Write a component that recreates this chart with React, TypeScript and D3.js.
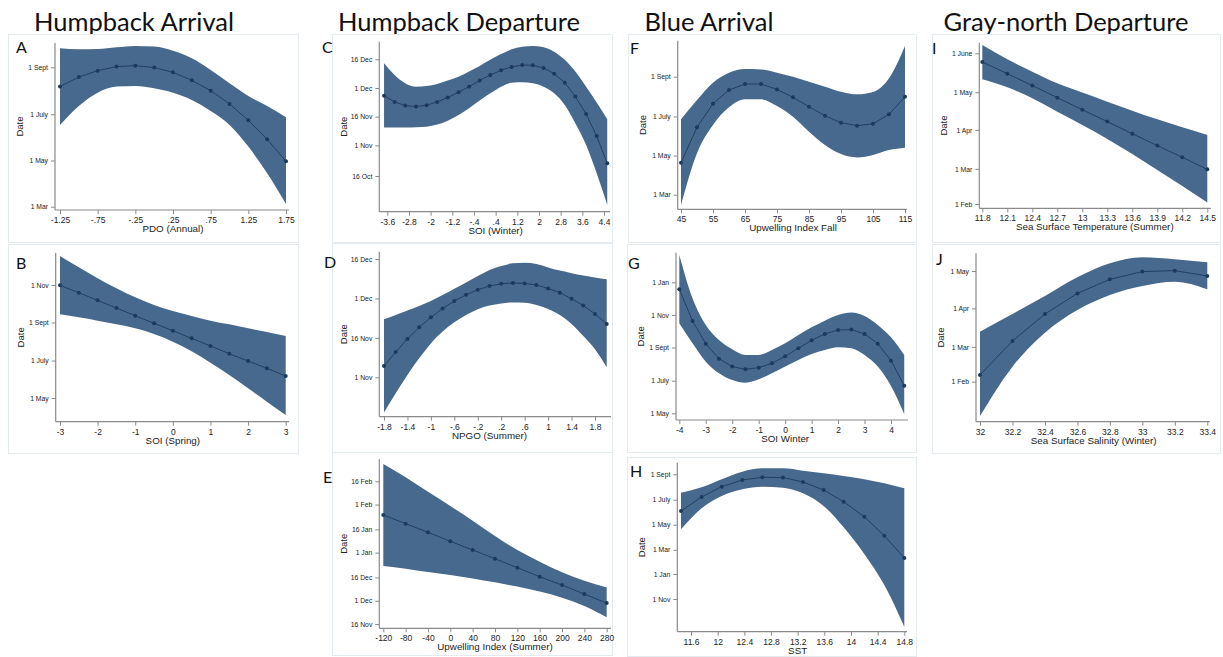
import React, { useRef, useEffect } from 'react'
import * as d3 from 'd3'

// dates are day-of-year (1 Jan = 1, values past 365 run into next year, negatives are the previous year)

// A: Humpback arrival vs PDO (Annual)
const aX = [-1.25, -1, -0.75, -0.5, -0.25, 0, 0.25, 0.5, 0.75, 1, 1.25, 1.5, 1.75]
const aFit = [218.5, 231.2, 239.6, 244.9, 246.2, 243.6, 237.4, 226.8, 213.2, 195.6, 174, 148.9, 119.9]
const aHi = [269.1, 267.8, 268.2, 270.4, 272.2, 271.3, 266, 255.9, 240.5, 222.9, 206.1, 192.9, 178]
const aLo = [167.9, 192.9, 210.5, 218.5, 219.4, 216.3, 210.5, 200.9, 186.3, 167.9, 139.3, 104.1, 63.6]
const aXTicks = [-1.25, -0.75, -0.25, 0.25, 0.75, 1.25, 1.75]
const aXLabels = ['-1.25', '-.75', '-.25', '.25', '.75', '1.25', '1.75']
const aYTicks = [244, 182, 121, 60]
const aYLabels = ['1 Sept', '1 July', '1 May', '1 Mar']

// B: Humpback arrival vs SOI (Spring)
const bX = [-3, -2.5, -2, -1.5, -1, -0.5, 0, 0.5, 1, 1.5, 2, 2.5, 3]
const bFit = [304.5, 292.5, 280, 267.5, 255, 242.6, 230.6, 218.1, 205.7, 193.2, 181.2, 169.3, 156.8]
const bHi = [352.2, 333.8, 315.9, 299.6, 284.9, 272.4, 262.7, 254.5, 246.9, 240.9, 234.4, 228.5, 221.9]
const bLo = [257.2, 252.3, 246.9, 240.9, 234.4, 225.2, 212.7, 197, 178.5, 158.4, 136.7, 115, 93.3]
const bXTicks = [-3, -2, -1, 0, 1, 2, 3]
const bXLabels = ['-3', '-2', '-1', '0', '1', '2', '3']
const bYTicks = [305, 244, 182, 121]
const bYLabels = ['1 Nov', '1 Sept', '1 July', '1 May']

// C: Humpback departure vs SOI (Winter)
const cX = [-3.72, -3.33, -2.94, -2.54, -2.15, -1.76, -1.37, -0.97, -0.58, -0.19, 0.2, 0.6, 0.99, 1.38, 1.77, 2.17, 2.56, 2.95, 3.34, 3.74, 4.13, 4.52]
const cFit = [331, 327.7, 325.8, 325.3, 326, 327.7, 330, 332.8, 335.7, 338.9, 341.8, 344.3, 346, 347, 346.9, 345.5, 342.5, 337.8, 330.5, 321.4, 309.9, 295.6]
const cHi = [347.9, 341.8, 337.5, 335.7, 336.1, 337.1, 338.9, 340.9, 343.6, 346.5, 349.7, 352.8, 355.2, 356.6, 357, 356.3, 354, 349.7, 343.6, 335.7, 327.4, 318.6]
const cLo = [314.3, 314.3, 314.3, 314.5, 314.8, 315.9, 317.9, 320.9, 324.4, 328.4, 332.2, 335.7, 337.8, 338, 337.5, 335.7, 332.2, 326.1, 316.6, 305.2, 290.4, 273.9]
const cXTicks = [-3.6, -2.8, -2, -1.2, -0.4, 0.4, 1.2, 2, 2.8, 3.6, 4.4]
const cXLabels = ['-3.6', '-2.8', '-2', '-1.2', '-.4', '.4', '1.2', '2', '2.8', '3.6', '4.4']
const cYTicks = [350, 335, 320, 305, 289]
const cYLabels = ['16 Dec', '1 Dec', '16 Nov', '1 Nov', '16 Oct']

// D: Humpback departure vs NPGO (Summer)
const dX = [-1.8, -1.6, -1.4, -1.2, -1, -0.8, -0.6, -0.4, -0.2, 0, 0.2, 0.4, 0.6, 0.8, 1, 1.2, 1.4, 1.6, 1.8, 2]
const dFit = [309.3, 314.6, 319.6, 324, 327.8, 331.2, 334, 336.4, 338.3, 339.7, 340.6, 340.9, 340.7, 340.1, 338.8, 337.2, 334.9, 332.3, 329.1, 325.3]
const dHi = [327.1, 328.7, 330.4, 332.1, 334, 336.3, 338.7, 341.1, 343.5, 345.8, 347.3, 348.4, 348.6, 348.1, 346.8, 345.6, 344.6, 343.7, 343, 342.3]
const dLo = [291.6, 298.9, 305.9, 312.2, 317.9, 322.4, 325.9, 328.7, 330.9, 332.3, 333.1, 333.5, 333.4, 332.5, 331, 328.7, 325.3, 320.7, 315.7, 308.8]
const dXTicks = [-1.8, -1.4, -1, -0.6, -0.2, 0.2, 0.6, 1, 1.4, 1.8]
const dXLabels = ['-1.8', '-1.4', '-1', '-.6', '-.2', '.2', '.6', '1', '1.4', '1.8']
const dYTicks = [350, 335, 320, 305]
const dYLabels = ['16 Dec', '1 Dec', '16 Nov', '1 Nov']

// E: Humpback departure vs Upwelling Index (Summer)
const eX = [-120, -80, -40, 0, 40, 80, 120, 160, 200, 240, 280]
const eFit = [390.3, 384.7, 379.1, 373.3, 367.7, 362.1, 356.3, 350.5, 345.1, 339.3, 333.5]
const eHi = [423.2, 414.6, 405.3, 396.1, 386.6, 376.7, 367.7, 360.2, 353.3, 347.9, 343.6]
const eLo = [357.4, 355.7, 353.5, 351.6, 349.4, 346.9, 344.1, 340.9, 337, 331.6, 324.3]
const eXTicks = [-120, -80, -40, 0, 40, 80, 120, 160, 200, 240, 280]
const eXLabels = ['-120', '-80', '-40', '0', '40', '80', '120', '160', '200', '240', '280']
const eYTicks = [412, 397, 381, 366, 350, 335, 320]
const eYLabels = ['16 Feb', '1 Feb', '16 Jan', '1 Jan', '16 Dec', '1 Dec', '16 Nov']

// F: Blue arrival vs Upwelling Index Fall
const fX = [45, 50, 55, 60, 65, 70, 75, 80, 85, 90, 95, 100, 105, 110, 115]
const fFit = [109.9, 165, 201.9, 223.2, 232.6, 232.6, 224.2, 211.8, 197.2, 183.2, 172.3, 167.6, 170.7, 185.3, 212.8]
const fHi = [177.5, 207.6, 234.6, 250.2, 256, 255.4, 250.2, 244, 236.2, 228.4, 220.6, 216.5, 220.1, 241.4, 291.8]
const fLo = [43.9, 124.5, 168.6, 196.2, 208.7, 208.7, 198.3, 181.6, 158.2, 137.5, 123.4, 118.2, 121.9, 129.7, 133.3]
const fXTicks = [45, 55, 65, 75, 85, 95, 105, 115]
const fXLabels = ['45', '55', '65', '75', '85', '95', '105', '115']
const fYTicks = [244, 182, 121, 60]
const fYLabels = ['1 Sept', '1 July', '1 May', '1 Mar']

// G: Blue arrival vs SOI Winter
const gX = [-4, -3.5, -3, -2.5, -2, -1.5, -1, -0.5, 0, 0.5, 1, 1.5, 2, 2.5, 3, 3.5, 4, 4.5]
const gFit = [352.9, 293.7, 251.3, 223.2, 208.3, 203.3, 206.4, 214.5, 227.6, 242.6, 257.5, 269.4, 276.8, 277.5, 269.4, 251.3, 219.5, 172.7]
const gHi = [417.1, 336.1, 286.2, 258.1, 240.7, 230.1, 230.1, 239.4, 251.9, 267.5, 281.8, 294.3, 304.9, 309.3, 303, 286.2, 263.1, 230.1]
const gLo = [289.3, 251.9, 217.6, 195.8, 183.3, 178.3, 184.6, 195.8, 208.3, 220.7, 232, 239.4, 244.4, 242.6, 230.1, 208.3, 172.1, 119.7]
const gXTicks = [-4, -3, -2, -1, 0, 1, 2, 3, 4]
const gXLabels = ['-4', '-3', '-2', '-1', '0', '1', '2', '3', '4']
const gYTicks = [366, 305, 244, 182, 121]
const gYLabels = ['1 Jan', '1 Nov', '1 Sept', '1 July', '1 May']

// H: Blue arrival vs SST
const hX = [11.45, 11.76, 12.06, 12.37, 12.67, 12.98, 13.28, 13.59, 13.89, 14.2, 14.5, 14.8]
const hFit = [154.6, 188.7, 213.9, 230.2, 236.7, 235.9, 225.3, 205.8, 177.3, 140.7, 94.4, 39.9]
const hHi = [199.3, 212.3, 231.8, 250.5, 258.6, 258.6, 252.9, 246.4, 239.9, 231.8, 222, 209.9]
const hLo = [109.9, 161.1, 191.2, 207.4, 213.9, 211.5, 197.7, 166.8, 114.7, 49.7, -25.9, -127.6]
const hXTicks = [11.6, 12, 12.4, 12.8, 13.2, 13.6, 14, 14.4, 14.8]
const hXLabels = ['11.6', '12', '12.4', '12.8', '13.2', '13.6', '14', '14.4', '14.8']
const hYTicks = [244, 182, 121, 60, 1, -60]
const hYLabels = ['1 Sept', '1 July', '1 May', '1 Mar', '1 Jan', '1 Nov']

// I: Gray-north departure vs SST (Summer)
const iX = [11.8, 12.1, 12.4, 12.7, 13, 13.3, 13.6, 13.9, 14.2, 14.5]
const iFit = [145.1, 135.8, 126.3, 116.7, 107.1, 97.6, 88, 78.5, 69.2, 59.6]
const iHi = [158.6, 147.2, 137.4, 128.1, 120.7, 113.5, 106.3, 99.4, 93.1, 87]
const iLo = [131.3, 124.9, 116.2, 105.5, 94.9, 83.8, 71.8, 59.1, 46.3, 33.1]
const iXTicks = [11.8, 12.1, 12.4, 12.7, 13, 13.3, 13.6, 13.9, 14.2, 14.5]
const iXLabels = ['11.8', '12.1', '12.4', '12.7', '13', '13.3', '13.6', '13.9', '14.2', '14.5']
const iYTicks = [152, 121, 91, 60, 32]
const iYLabels = ['1 June', '1 May', '1 Apr', '1 Mar', '1 Feb']

// J: Gray-north departure vs Sea Surface Salinity (Winter)
const jX = [32, 32.2, 32.4, 32.6, 32.8, 33, 33.2, 33.4]
const jFit = [37.4, 64.7, 86.4, 103, 114.3, 120.5, 121.3, 117]
const jHi = [72.2, 86.4, 100.9, 115.9, 127.2, 132, 130.4, 128]
const jLo = [4.4, 44.1, 71.4, 89.6, 101.7, 108.9, 112.4, 106.3]
const jXTicks = [32, 32.2, 32.4, 32.6, 32.8, 33, 33.2, 33.4]
const jXLabels = ['32', '32.2', '32.4', '32.6', '32.8', '33', '33.2', '33.4']
const jYTicks = [121, 91, 60, 32]
const jYLabels = ['1 May', '1 Apr', '1 Mar', '1 Feb']

const titles = ['Humpback Arrival', 'Humpback Departure', 'Blue Arrival', 'Gray-north Departure']
const titleX = [134, 459, 709, 1066]

// layout: box = [x, y, w, h]; ax = y-axis x; top/base = axis y extent; xPx / yPx = pixel of first & last tick
const panels = [
  { id: 'A', xs: aX, fit: aFit, hi: aHi, lo: aLo, xt: aXTicks, xl: aXLabels, yt: aYTicks, yl: aYLabels, title: 'PDO (Annual)',
    box: [8, 34, 290, 208], letter: [16, 53], ax: 55, top: 43, base: 210, xEnd: 289, xPx: [60, 286], yPx: [67.3, 206.7] },
  { id: 'B', xs: bX, fit: bFit, hi: bHi, lo: bLo, xt: bXTicks, xl: bXLabels, yt: bYTicks, yl: bYLabels, title: 'SOI (Spring)',
    box: [8, 244, 290, 209], letter: [16, 269], ax: 55.7, top: 253, base: 421.7, xEnd: 289, xPx: [60, 285.7], yPx: [285, 398] },
  { id: 'C', xs: cX, fit: cFit, hi: cHi, lo: cLo, xt: cXTicks, xl: cXLabels, yt: cYTicks, yl: cYLabels, title: 'SOI (Winter)',
    box: [332, 34, 280, 208], letter: [322, 53], ax: 379.3, top: 41.7, base: 211.7, xEnd: 610, xPx: [387.3, 604], yPx: [59.3, 176] },
  { id: 'D', xs: dX, fit: dFit, hi: dHi, lo: dLo, xt: dXTicks, xl: dXLabels, yt: dYTicks, yl: dYLabels, title: 'NPGO (Summer)',
    box: [332, 243, 280, 209], letter: [324, 268], ax: 379.3, top: 251.7, base: 416.7, xEnd: 611, xPx: [384, 595], yPx: [259, 377.3] },
  { id: 'E', xs: eX, fit: eFit, hi: eHi, lo: eLo, xt: eXTicks, xl: eXLabels, yt: eYTicks, yl: eYLabels, title: 'Upwelling Index (Summer)',
    box: [332, 452, 280, 203], letter: [323, 483], ax: 379.3, top: 459.3, base: 628.3, xEnd: 611, xPx: [383.3, 606.7], yPx: [481.3, 624] },
  { id: 'F', xs: fX, fit: fFit, hi: fHi, lo: fLo, xt: fXTicks, xl: fXLabels, yt: fYTicks, yl: fYLabels, title: 'Upwelling Index Fall',
    box: [628, 34, 288, 208], letter: [630, 54], ax: 677.7, top: 40.7, base: 209.3, xEnd: 907, xPx: [681, 905], yPx: [76.7, 194.7] },
  { id: 'G', xs: gX, fit: gFit, hi: gHi, lo: gLo, xt: gXTicks, xl: gXLabels, yt: gYTicks, yl: gYLabels, title: 'SOI Winter',
    box: [627, 244, 289, 208], letter: [628, 269], ax: 676, top: 252.7, base: 420, xEnd: 908, xPx: [679.3, 891], yPx: [282.3, 413.3] },
  { id: 'H', xs: hX, fit: hFit, hi: hHi, lo: hLo, xt: hXTicks, xl: hXLabels, yt: hYTicks, yl: hYLabels, title: 'SST',
    box: [627, 457, 289, 199], letter: [630, 477], ax: 677.3, top: 462.7, base: 631.7, xEnd: 907, xPx: [691, 904.3], yPx: [474.3, 599] },
  { id: 'I', xs: iX, fit: iFit, hi: iHi, lo: iLo, xt: iXTicks, xl: iXLabels, yt: iYTicks, yl: iYLabels, title: 'Sea Surface Temperature (Summer)',
    box: [932, 34, 288, 208], letter: [932, 54], ax: 979.3, top: 42.7, base: 208.3, xEnd: 1211, xPx: [982.3, 1207.3], yPx: [53.3, 204] },
  { id: 'J', xs: jX, fit: jFit, hi: jHi, lo: jLo, xt: jXTicks, xl: jXLabels, yt: jYTicks, yl: jYLabels, title: 'Sea Surface Salinity (Winter)',
    box: [932, 244, 288, 209], letter: [936, 265], ax: 976, top: 253.3, base: 421.7, xEnd: 1210, xPx: [980, 1207.3], yPx: [271, 381.7] },
]

const BAND = '#47698d'
const LINE = '#1c3a5c'
const AXIS = '#8a8a8a'
const TEXT = '#222'
const SANS = '"Liberation Sans", Arial, sans-serif'

const App = () => {
  const svgRef = useRef(null)

  useEffect(() => {
    const svg = d3.select(svgRef.current)
    svg.selectAll('*').remove()

    svg.append('g')
      .selectAll('text')
      .data(titles)
      .join('text')
      .attr('x', (d, i) => titleX[i])
      .attr('y', 31)
      .attr('text-anchor', 'middle')
      .attr('font-family', 'Lato, "Open Sans", sans-serif')
      .attr('font-size', 25.5)
      .attr('fill', '#111')
      .text((d) => d)

    panels.forEach((p) => {
      const g = svg.append('g')
      const x = d3.scaleLinear().domain([p.xt[0], p.xt[p.xt.length - 1]]).range(p.xPx)
      const y = d3.scaleLinear().domain([p.yt[0], p.yt[p.yt.length - 1]]).range(p.yPx)
      const rows = p.xs.map((v, i) => ({ x: v, fit: p.fit[i], hi: p.hi[i], lo: p.lo[i] }))

      g.append('rect')
        .attr('x', p.box[0] + 0.5)
        .attr('y', p.box[1] + 0.5)
        .attr('width', p.box[2])
        .attr('height', p.box[3])
        .attr('fill', '#fff')
        .attr('stroke', '#e4ebef')

      g.append('text')
        .attr('x', p.letter[0])
        .attr('y', p.letter[1])
        .attr('font-family', 'Lato, "Open Sans", sans-serif')
        .attr('font-size', 16)
        .attr('fill', '#111')
        .text(p.id)

      const area = d3.area()
        .x((d) => x(d.x))
        .y0((d) => y(d.lo))
        .y1((d) => y(d.hi))
        .curve(d3.curveMonotoneX)
      g.append('path').attr('d', area(rows)).attr('fill', BAND)

      const line = d3.line().x((d) => x(d.x)).y((d) => y(d.fit))
      g.append('path').attr('d', line(rows)).attr('fill', 'none').attr('stroke', LINE).attr('stroke-width', 0.9)

      g.append('g')
        .selectAll('circle')
        .data(rows)
        .join('circle')
        .attr('cx', (d) => x(d.x))
        .attr('cy', (d) => y(d.fit))
        .attr('r', 2)
        .attr('fill', LINE)

      // axis lines
      g.append('line').attr('x1', p.ax).attr('x2', p.ax).attr('y1', p.top).attr('y2', p.base)
        .attr('stroke', AXIS).attr('stroke-width', 1.2)
      g.append('line').attr('x1', p.ax).attr('x2', p.xEnd).attr('y1', p.base).attr('y2', p.base)
        .attr('stroke', AXIS).attr('stroke-width', 1.2)

      const xAxis = g.append('g')
        .attr('transform', `translate(0,${p.base})`)
        .call(d3.axisBottom(x).tickValues(p.xt).tickFormat((d, i) => p.xl[i]).tickSize(4).tickSizeOuter(0))
      xAxis.select('.domain').remove()
      xAxis.selectAll('line').attr('stroke', AXIS)
      xAxis.selectAll('text').attr('font-family', SANS).attr('font-size', 8.5).attr('fill', TEXT)

      const yAxis = g.append('g')
        .attr('transform', `translate(${p.ax},0)`)
        .call(d3.axisLeft(y).tickValues(p.yt).tickFormat((d, i) => p.yl[i]).tickSize(4).tickSizeOuter(0))
      yAxis.select('.domain').remove()
      yAxis.selectAll('line').attr('stroke', AXIS)
      yAxis.selectAll('text').attr('font-family', SANS).attr('font-size', 6.8).attr('fill', TEXT)

      g.append('text')
        .attr('x', (x.range()[0] + x.range()[1]) / 2)
        .attr('y', p.base + 22)
        .attr('text-anchor', 'middle')
        .attr('font-family', SANS)
        .attr('font-size', 9.8)
        .attr('fill', TEXT)
        .text(p.title)

      g.append('text')
        .attr('transform', `translate(${p.ax - 32},${(p.top + p.base) / 2}) rotate(-90)`)
        .attr('text-anchor', 'middle')
        .attr('font-family', SANS)
        .attr('font-size', 9.5)
        .attr('fill', TEXT)
        .text('Date')
    })
  }, [])

  return (
    <svg
      ref={svgRef}
      width={1223}
      height={657}
      style={{ position: 'absolute', left: 0, top: 0, background: '#fff' }}
    />
  )
}

export default App
